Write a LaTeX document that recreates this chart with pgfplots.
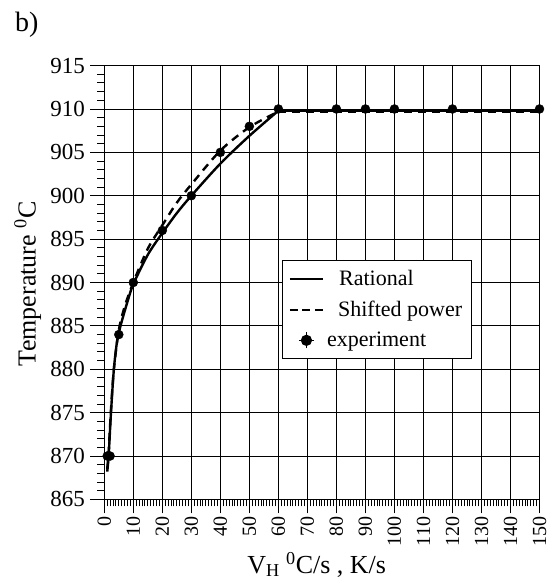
\documentclass[border=0pt]{standalone}
\usepackage{fontspec}
\setmainfont{Liberation Serif}
\usepackage{pgfplots}
\pgfplotsset{compat=1.18}
\begin{document}
\begin{tikzpicture}
\useasboundingbox (-104.3pt,-81.6pt) rectangle (447.7pt,499.4pt);
\begin{axis}[
  scale only axis,
  width=435.2pt, height=433.8pt,
  xmin=0, xmax=150, ymin=865, ymax=915,
  xtick={0,10,...,150}, ytick={865,870,...,915},
  minor x tick num=9, minor y tick num=4,
  tick align=outside,
  xtick pos=bottom, ytick pos=left,
  major tick length=14pt, minor tick length=7pt,
  every tick/.style={black, line width=0.9pt},
  grid=major,
  major grid style={black, line width=0.9pt},
  axis line style={black, line width=1.3pt},
  clip=false,
  /pgf/number format/assume math mode=true,
  /pgf/number format/1000 sep={},
  yticklabel style={font=\fontsize{23}{23}\selectfont, xshift=-2pt},
  xticklabel style={rotate=90, anchor=east, font=\fontsize{20}{20}\selectfont},
  label style={font=\fontsize{26}{26}\selectfont},
  xlabel={V\textsubscript{H} \textsuperscript{0}C/s , K/s},
  ylabel={Temperature \textsuperscript{0}C},
  xlabel style={at={(axis description cs:0.488,-0.17)}, anchor=base},
  ylabel style={at={(axis description cs:-0.176,0.497)}, anchor=center},
  legend style={at={(axis cs:61.3,892.6)}, anchor=north west,
    draw=black, line width=1.2pt, fill=white,
    font=\fontsize{22}{22}\selectfont,
    inner xsep=6pt, inner ysep=7pt,
    row sep=8pt,
    nodes={inner sep=3pt}},
  legend cell align=left,
]
\addplot[black, line width=2.4pt, smooth, tension=0.5,
  legend image code/.code={\draw[black, line width=2.4pt] (0pt,0pt)--(33pt,0pt);}]
  coordinates {(1,868.2) (1.5,870) (2.3,875) (3.3,880) (4.3,883) (5,884.2) (6,885.5) (8,887.8) (10,889.8) (15,893.2) (20,895.7) (25,898) (30,900) (40,903.7) (50,906.9) (60,909.8)};
\addlegendentry{\hspace{12pt}Rational}
\addplot[black, line width=2.4pt, dash pattern=on 8pt off 6pt, smooth, tension=0.5,
  legend image code/.code={\draw[black, line width=2.4pt, dash pattern=on 8pt off 4.5pt] (0pt,0pt)--(33pt,0pt);}]
  coordinates {(1,868.5) (1.5,870.5) (2.3,875.3) (3.3,880) (5,884.5) (7,887.2) (10,890) (15,893.9) (20,896.6) (25,899.2) (30,901.3) (40,905.2) (50,907.9) (60,909.7)};
\addlegendentry{\hspace{11pt}Shifted power}
\addplot[black, only marks, mark=*, mark size=4.5pt,
  legend image code/.code={\draw[black, line width=1.4pt] (16.5pt,-8pt)--(16.5pt,8pt); \draw[black, line width=1.4pt] (9pt,0pt)--(24pt,0pt); \fill[black] (16.5pt,0pt) circle (5pt);}]
  coordinates {(1,870) (2,870) (5,884) (10,890) (20,896) (30,900) (40,905) (50,908) (60,910) (80,910) (90,910) (100,910) (120,910) (150,910)};
\addlegendentry{experiment}
\addplot[black, line width=2.4pt, forget plot] coordinates {(60,909.8) (150,909.8)};
\addplot[black, line width=2.4pt, dash pattern=on 8pt off 6pt, forget plot] coordinates {(60,909.7) (150,909.7)};
\end{axis}
\node[anchor=base west, inner sep=0pt, font=\fontsize{28}{28}\selectfont] at (-89.3pt,467.4pt) {b)};
\end{tikzpicture}
\end{document}
